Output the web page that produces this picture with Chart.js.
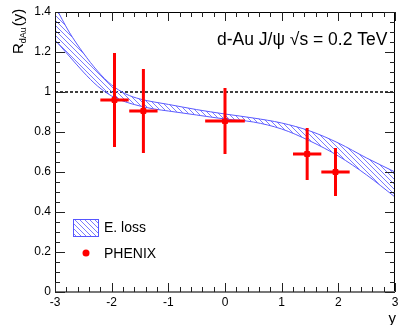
<!DOCTYPE html>
<html lang="en">
<head>
    <meta charset="UTF-8">
    <title>d-Au J/psi R_dAu vs rapidity</title>
    <style>
        html, body { margin: 0; padding: 0; background: #fff; }
        #wrap { width: 398px; height: 325px; }
    </style>
</head>
<body>
    <div id="wrap"><canvas id="myChart" width="398" height="325"></canvas></div>
    <script src="https://cdn.jsdelivr.net/npm/chart.js@4/dist/chart.umd.min.js"></script>
    <script>
        // E. loss band (upper / lower edge) vs rapidity
        var rapidity   = [-3, -2.75, -2.5, -2.25, -2, -1.75, -1.5, -1.25, -1, -0.5, 0, 0.5, 1, 1.5, 2, 2.5, 3];
        var elossUpper = [1.43, 1.30, 1.195, 1.105, 1.035, 0.99, 0.965, 0.95, 0.938, 0.912, 0.89, 0.87, 0.845, 0.805, 0.745, 0.67, 0.60];
        var elossLower = [1.26, 1.18, 1.10, 1.03, 0.98, 0.95, 0.93, 0.915, 0.905, 0.885, 0.865, 0.85, 0.815, 0.755, 0.68, 0.585, 0.475];

        // PHENIX points
        var phenixY    = [-1.95, -1.44, 0.0, 1.45, 1.95];
        var phenixR    = [0.96, 0.905, 0.855, 0.69, 0.60];
        var phenixXErr = [0.25, 0.25, 0.35, 0.25, 0.25];
        var phenixRErr = [0.235, 0.21, 0.165, 0.13, 0.12];

        var refLineX = [-3, 3];
        var refLineR = [1, 1];

        var yTicks = [0, 0.2, 0.4, 0.6, 0.8, 1, 1.2, 1.4];
        var xTicks = [-3, -2, -1, 0, 1, 2, 3];

        var FONT = "'Liberation Sans', Arial, sans-serif";

        function toPts(xs, ys) {
            return xs.map(function (x, i) { return { x: x, y: ys[i] }; });
        }

        // hatch pattern, lines going down to the right
        function makeHatch() {
            var c = document.createElement("canvas");
            c.width = 5; c.height = 5;
            var g = c.getContext("2d");
            g.strokeStyle = "#7a7aff";
            g.lineWidth = 1;
            g.beginPath();
            g.moveTo(-1, -1); g.lineTo(6, 6);
            g.moveTo(-1, 4); g.lineTo(1, 6);
            g.moveTo(4, -1); g.lineTo(6, 1);
            g.stroke();
            return g.createPattern(c, "repeat");
        }
        var hatch = makeHatch();

        var framePlugin = {
            id: "frame",
            afterDatasetsDraw: function (chart) {
                var ctx = chart.ctx;
                var a = chart.chartArea;
                var xs = chart.scales.x, ys = chart.scales.y;
                ctx.save();

                // error bars
                ctx.strokeStyle = "#ff0000";
                ctx.lineWidth = 3;
                for (var i = 0; i < phenixY.length; i++) {
                    var px = xs.getPixelForValue(phenixY[i]);
                    var py = ys.getPixelForValue(phenixR[i]);
                    ctx.beginPath();
                    ctx.moveTo(xs.getPixelForValue(phenixY[i] - phenixXErr[i]), py);
                    ctx.lineTo(xs.getPixelForValue(phenixY[i] + phenixXErr[i]), py);
                    ctx.moveTo(px, ys.getPixelForValue(phenixR[i] + phenixRErr[i]));
                    ctx.lineTo(px, ys.getPixelForValue(phenixR[i] - phenixRErr[i]));
                    ctx.stroke();
                }

                // frame
                ctx.lineWidth = 1;
                ctx.strokeStyle = "#000";
                ctx.strokeRect(a.left + 0.5, a.top + 0.5, a.right - a.left - 1, a.bottom - a.top);
                ctx.strokeStyle = "#777";
                ctx.lineWidth = 2;
                ctx.beginPath();
                ctx.moveTo(a.left, a.bottom);
                ctx.lineTo(a.right, a.bottom);
                ctx.stroke();

                // ticks
                ctx.strokeStyle = "#222";
                ctx.lineWidth = 1;
                ctx.beginPath();
                for (var v = 0; v <= 28; v++) {
                    var yv = v * 0.05;
                    var len = (v % 4 === 0) ? 10 : 5;
                    var yp = Math.round(ys.getPixelForValue(yv)) + 0.5;
                    ctx.moveTo(a.left, yp); ctx.lineTo(a.left + len, yp);
                    ctx.moveTo(a.right, yp); ctx.lineTo(a.right - len, yp);
                }
                for (var k = 0; k <= 30; k++) {
                    var xv = -3 + k * 0.2;
                    var l2 = (k % 5 === 0) ? 9 : 5;
                    var xp = Math.round(xs.getPixelForValue(xv)) + 0.5;
                    ctx.moveTo(xp, a.bottom); ctx.lineTo(xp, a.bottom - l2);
                    ctx.moveTo(xp, a.top); ctx.lineTo(xp, a.top + l2);
                }
                ctx.stroke();

                // header text
                ctx.fillStyle = "#000";
                ctx.font = "17.5px " + FONT;
                ctx.textBaseline = "alphabetic";
                ctx.textAlign = "left";
                ctx.fillText("d-Au J/\u03c8 \u221as = 0.2 TeV", 217, 45);

                // legend
                ctx.fillStyle = hatch;
                ctx.fillRect(73, 219, 25, 17);
                ctx.strokeStyle = "#5555ff";
                ctx.strokeRect(73.5, 219.5, 25, 17);
                ctx.fillStyle = "#ff0000";
                ctx.beginPath();
                ctx.arc(86, 253, 3.5, 0, Math.PI * 2);
                ctx.fill();
                ctx.fillStyle = "#000";
                ctx.font = "14px " + FONT;
                ctx.textBaseline = "middle";
                ctx.fillText("E. loss", 104, 228);
                ctx.fillText("PHENIX", 104, 254);

                // axis titles
                ctx.font = "15px " + FONT;
                ctx.textAlign = "right";
                ctx.textBaseline = "alphabetic";
                ctx.fillText("y", 396, 323);

                ctx.translate(23, 54);
                ctx.rotate(-Math.PI / 2);
                ctx.textAlign = "left";
                ctx.font = "15px " + FONT;
                ctx.fillText("R", 0, 0);
                var w = ctx.measureText("R").width;
                ctx.font = "9px " + FONT;
                ctx.fillText("dAu", w, 3);
                var w2 = ctx.measureText("dAu").width;
                ctx.font = "15px " + FONT;
                ctx.fillText("(y)", w + w2 + 1, 0);
                ctx.restore();
            }
        };

        var ctx = document.getElementById("myChart").getContext("2d");
        var chart = new Chart(ctx, {
            type: "scatter",
            data: {
                datasets: [
                    {
                        type: "line",
                        data: toPts(rapidity, elossUpper),
                        borderColor: "#5a5aff",
                        borderWidth: 1,
                        pointRadius: 0,
                        cubicInterpolationMode: "monotone",
                        fill: "+1",
                        backgroundColor: hatch
                    },
                    {
                        type: "line",
                        data: toPts(rapidity, elossLower),
                        borderColor: "#5a5aff",
                        borderWidth: 1,
                        pointRadius: 0,
                        cubicInterpolationMode: "monotone",
                        fill: false
                    },
                    {
                        type: "line",
                        data: toPts(refLineX, refLineR),
                        borderColor: "#000",
                        borderWidth: 1.5,
                        borderDash: [3, 2],
                        pointRadius: 0,
                        fill: false
                    },
                    {
                        data: toPts(phenixY, phenixR),
                        pointStyle: "rect",
                        pointRadius: 3.5,
                        backgroundColor: "#ff0000",
                        borderColor: "#ff0000"
                    }
                ]
            },
            options: {
                responsive: false,
                animation: false,
                events: [],
                layout: { autoPadding: false, padding: { top: 12, right: 3, left: 0, bottom: 0 } },
                plugins: {
                    legend: { display: false },
                    tooltip: { enabled: false }
                },
                scales: {
                    x: {
                        type: "linear",
                        min: -3, max: 3,
                        afterFit: function (s) { s.height = 33; s.paddingLeft = 0; s.paddingRight = 0; },
                        afterBuildTicks: function (s) { s.ticks = xTicks.map(function (v) { return { value: v }; }); },
                        grid: { display: false, drawTicks: false, tickLength: 0 },
                        border: { display: false },
                        ticks: {
                            padding: 3,
                            color: "#000",
                            font: { family: FONT, size: 12 },
                            maxRotation: 0,
                            callback: function (v) { return String(v); }
                        }
                    },
                    y: {
                        min: 0, max: 1.4,
                        afterFit: function (s) { s.width = 55; s.paddingTop = 0; s.paddingBottom = 0; },
                        afterBuildTicks: function (s) { s.ticks = yTicks.map(function (v) { return { value: v }; }); },
                        grid: { display: false, drawTicks: false, tickLength: 0 },
                        border: { display: false },
                        ticks: {
                            padding: 4,
                            color: "#000",
                            font: { family: FONT, size: 12 },
                            callback: function (v) { return String(Math.round(v * 10) / 10); }
                        }
                    }
                }
            },
            plugins: [framePlugin]
        });
    </script>
</body>
</html>
